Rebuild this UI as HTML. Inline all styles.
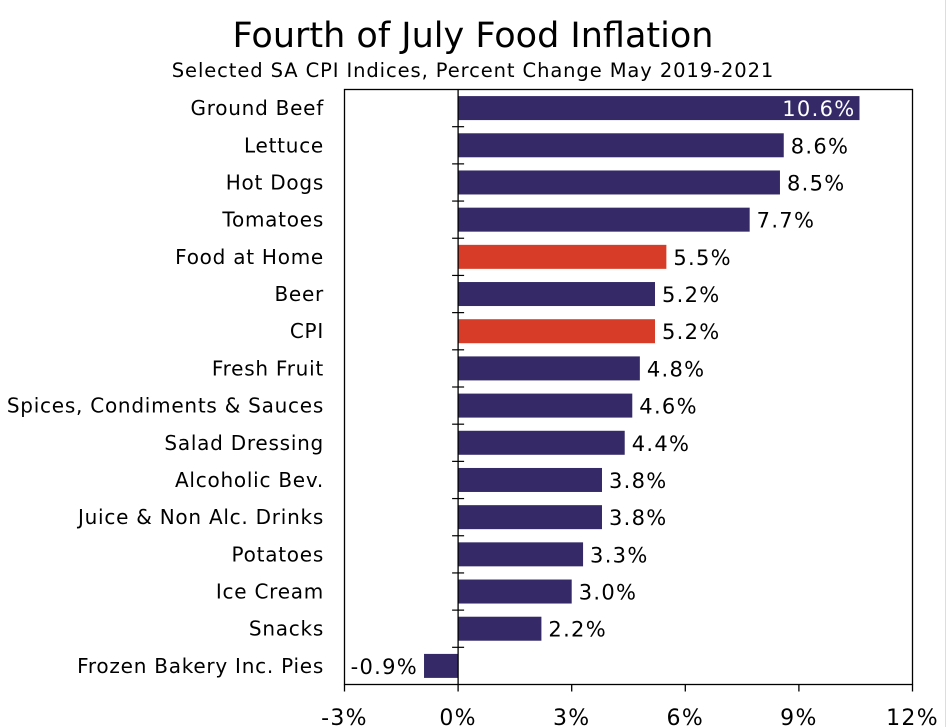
<!DOCTYPE html>
<html><head><meta charset="utf-8"><style>
body{margin:0;background:#fff;}
svg{display:block;font-family:"DejaVu Sans","Liberation Sans",sans-serif;}
</style></head><body>
<svg id="chart" width="947" height="727">
<rect x="0" y="0" width="947" height="727" fill="#fff"/>
<line x1="945.5" y1="0" x2="945.5" y2="727" stroke="#ddd"/>
<text x="473" y="47" text-anchor="middle" font-size="35" fill="#000">Fourth of July Food Inflation</text>
<text x="473" y="77" text-anchor="middle" font-size="19.5" letter-spacing="0.9" fill="#000">Selected SA CPI Indices, Percent Change May 2019-2021</text>
<g id="plot"></g>
</svg>
<script>
const categories=["Ground Beef","Lettuce ","Hot Dogs","Tomatoes","Food at Home","Beer","CPI","Fresh Fruit","Spices, Condiments & Sauces","Salad Dressing","Alcoholic Bev.","Juice & Non Alc. Drinks","Potatoes","Ice Cream","Snacks","Frozen Bakery Inc. Pies"];
const values=[10.6,8.6,8.5,7.7,5.5,5.2,5.2,4.8,4.6,4.4,3.8,3.8,3.3,3.0,2.2,-0.9];
const highlight=[false,false,false,false,true,false,true,false,false,false,false,false,false,false,false,false];
const xTicks=[-3,0,3,6,9,12];
const NS="http://www.w3.org/2000/svg";
const L=344.5,R=912.5,T=89.5,B=684.5,xmin=-3,xmax=12;
const x=v=>L+(v-xmin)/(xmax-xmin)*(R-L);
const band=(B-T)/categories.length;
const y=i=>T+band*i;
const g=document.getElementById('plot');
function mk(t,a){const e=document.createElementNS(NS,t);for(const k in a)e.setAttribute(k,a[k]);g.appendChild(e);return e;}
const frame=mk('rect',{x:L,y:T,width:R-L,height:B-T,fill:'none',stroke:'#000','stroke-width':1.3});


categories.forEach((c,i)=>{
  const v=values[i];
  const bh=24, by=y(i)+(band-bh)/2;
  const x0=x(0),x1=x(v);
  const r=mk('rect',{x:Math.min(x0,x1),y:by,width:Math.abs(x1-x0),height:bh,fill:highlight[i]?'#d63c27':'#352a67'});
  
  
  const lab=mk('text',{x:324,y:by+bh/2+7,'text-anchor':'end','font-size':20,'letter-spacing':0.75,fill:'#000'});
  lab.textContent=c;
  
  
  const txt=v.toFixed(1)+'%';
  const common={y:by+bh/2+8,'font-size':21,'letter-spacing':1.3};
  let vl;
  if(i===0){vl=mk('text',Object.assign({x:x1-4,'text-anchor':'end',fill:'#fff'},common));}
  else if(v<0){vl=mk('text',Object.assign({x:x1-6,'text-anchor':'end',fill:'#000'},common));}
  else{vl=mk('text',Object.assign({x:x1+7,fill:'#000'},common));}
  vl.textContent=txt;
  
  
  if(i>0){
    const tk=mk('line',{x1:x(0)-6,x2:x(0)+6,y1:y(i),y2:y(i),stroke:'#000','stroke-width':1.2});
    
    
  }
});
const zl=mk('line',{x1:x(0),x2:x(0),y1:T,y2:B,stroke:'#000','stroke-width':1.3});


xTicks.forEach(t=>{
  const l=mk('line',{x1:x(t),x2:x(t),y1:B,y2:B+7,stroke:'#000','stroke-width':1.3});
  
  
  const tx=mk('text',{x:x(t),y:725,'text-anchor':'middle','font-size':22,'letter-spacing':1.3,fill:'#000'});
  tx.textContent=t+'%';
  
  
});
</script>
</body></html>
